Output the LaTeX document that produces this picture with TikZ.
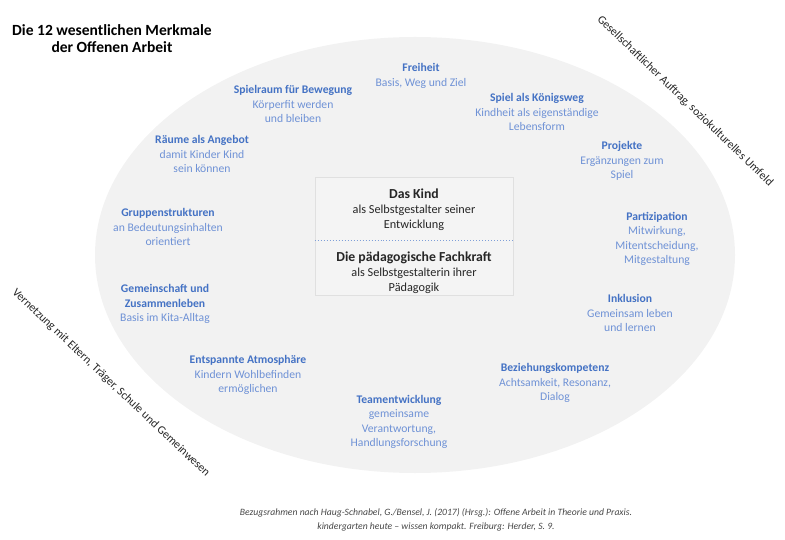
\documentclass[tikz,border=0pt]{standalone}
\usepackage{fontspec}
\setmainfont{Carlito}
\usepackage{tikz}
\usetikzlibrary{shapes.geometric}

\definecolor{feldgrau}{HTML}{F2F2F2}
\definecolor{kastengrau}{HTML}{F4F4F4}
\definecolor{randgrau}{HTML}{E0E0E0}
\definecolor{titelblau}{HTML}{4472C4}
\definecolor{textblau}{HTML}{6F92D6}
\definecolor{linieblau}{HTML}{7F9FD8}
\definecolor{schrift}{HTML}{262626}

\newcommand{\mtitel}[1]{\textcolor{titelblau}{\textbf{#1}}}

\begin{document}
\begin{tikzpicture}[
    x=1bp, y=-1bp,
    feld/.style={
        ellipse,
        fill=feldgrau,
        draw=none,
        inner sep=0pt,
        minimum width=640bp,
        minimum height=436bp
    },
    kasten/.style={
        rectangle,
        fill=kastengrau,
        draw=randgrau,
        line width=0.5pt,
        minimum width=198bp,
        minimum height=118bp
    },
    merkmal/.style={
        font=\fontsize{11.7}{14.3}\selectfont,
        text=textblau,
        align=center,
        inner sep=0pt
    },
    mitte/.style={
        font=\fontsize{12.3}{15.2}\selectfont,
        text=schrift,
        align=center,
        inner sep=0pt
    },
    umfeld/.style={
        font=\fontsize{11.8}{13}\selectfont,
        text=schrift,
        inner sep=0pt
    },
    haupttitel/.style={
        font=\fontsize{15.6}{17}\selectfont\bfseries,
        text=black,
        align=center,
        inner sep=0pt
    },
    quelle/.style={
        font=\fontsize{9.7}{14}\selectfont\itshape,
        text=schrift!85,
        align=center,
        inner sep=0pt
    }
]

% ---------------------------------------------------------
% Canvas
% ---------------------------------------------------------
\path[use as bounding box] (0,0) rectangle (785,540);

\node[haupttitel] (titel) at (112,39)
    {Die 12 wesentlichen Merkmale\\der Offenen Arbeit};

% ---------------------------------------------------------
% Field and centre box
% ---------------------------------------------------------
\node[feld] (feld) at (415,255) {};

\node[kasten] (kasten) at (414,236) {};
\draw[linieblau, dotted, line width=1pt]
    ([yshift=-4bp]kasten.west) -- ([yshift=-4bp]kasten.east);

\node[mitte] (kind) at (414,210)
    {\textbf{\fontsize{13.8}{15.2}\selectfont Das Kind}\\
    als Selbstgestalter seiner\\Entwicklung};

\node[mitte] (fachkraft) at (414,273)
    {\textbf{\fontsize{13.8}{15.2}\selectfont Die pädagogische Fachkraft}\\
    als Selbstgestalterin ihrer\\Pädagogik};

% ---------------------------------------------------------
% The twelve features
% ---------------------------------------------------------
\node[merkmal] (freiheit) at (421,76)
    {\mtitel{Freiheit}\\Basis, Weg und Ziel};

\node[merkmal] (spielraum) at (293,104)
    {\mtitel{Spielraum für Bewegung}\\Körperfit werden\\und bleiben};

\node[merkmal] (koenigsweg) at (537,112)
    {\mtitel{Spiel als Königsweg}\\Kindheit als eigenständige\\Lebensform};

\node[merkmal] (raeume) at (202,154)
    {\mtitel{Räume als Angebot}\\damit Kinder Kind\\sein können};

\node[merkmal] (projekte) at (622,161)
    {\mtitel{Projekte}\\Ergänzungen zum\\Spiel};

\node[merkmal] (gruppen) at (168,227)
    {\mtitel{Gruppenstrukturen}\\an Bedeutungsinhalten\\orientiert};

\node[merkmal] (partizipation) at (657,239)
    {\mtitel{Partizipation}\\Mitwirkung,\\Mitentscheidung,\\Mitgestaltung};

\node[merkmal] (gemeinschaft) at (165,304)
    {\mtitel{Gemeinschaft und}\\\mtitel{Zusammenleben}\\Basis im Kita-Alltag};

\node[merkmal] (inklusion) at (630,313)
    {\mtitel{Inklusion}\\Gemeinsam leben\\und lernen};

\node[merkmal] (atmosphaere) at (248,375)
    {\mtitel{Entspannte Atmosphäre}\\Kindern Wohlbefinden\\ermöglichen};

\node[merkmal] (beziehung) at (555,383)
    {\mtitel{Beziehungskompetenz}\\Achtsamkeit, Resonanz,\\Dialog};

\node[merkmal] (team) at (399,422)
    {\mtitel{Teamentwicklung}\\gemeinsame\\Verantwortung,\\Handlungsforschung};

% ---------------------------------------------------------
% Surroundings
% ---------------------------------------------------------
\node[umfeld, rotate=-44] (auftrag) at (685,101)
    {Gesellschaftlicher Auftrag, soziokulturelles Umfeld};

\node[umfeld, rotate=-43.5] (vernetzung) at (111,383)
    {Vernetzung mit Eltern, Träger, Schule und Gemeinwesen};

\node[quelle] (quelle) at (436,520)
    {Bezugsrahmen nach Haug-Schnabel, G./Bensel, J. (2017) (Hrsg.): Offene Arbeit in Theorie und Praxis.\\
    kindergarten heute -- wissen kompakt. Freiburg: Herder, S. 9.};

\end{tikzpicture}
\end{document}
